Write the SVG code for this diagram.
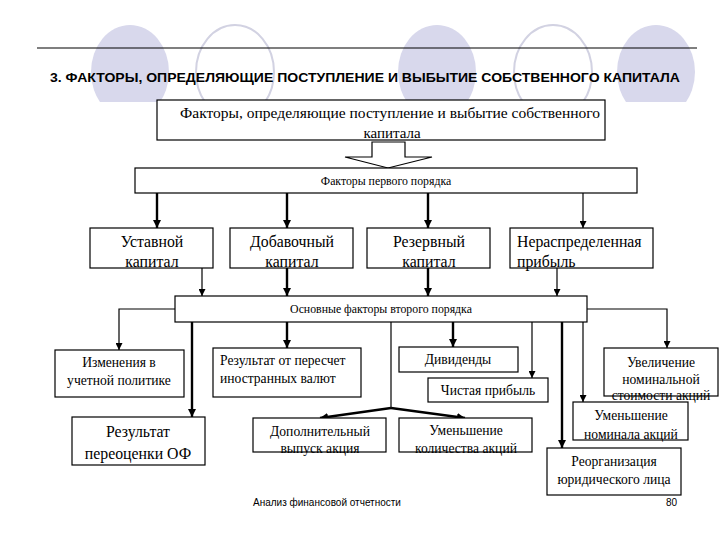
<svg xmlns="http://www.w3.org/2000/svg" width="720" height="540" viewBox="0 0 720 540">
<defs>
<marker id="ah" viewBox="0 0 10 10" refX="10" refY="5" markerWidth="7" markerHeight="7" markerUnits="userSpaceOnUse" orient="auto"><path d="M0,0 L10,5 L0,10 z" fill="#000"/></marker>
<marker id="ahb" viewBox="0 0 10 10" refX="10" refY="5" markerWidth="8" markerHeight="8" markerUnits="userSpaceOnUse" orient="auto"><path d="M0,0 L10,5 L0,10 z" fill="#000"/></marker>
<clipPath id="topclip"><rect x="0" y="0" width="720" height="102"/></clipPath>
</defs>
<style>
.box{fill:#fff;stroke:#000;stroke-width:1.2}
.t{font-family:"Liberation Serif","DejaVu Serif",serif;fill:#000}
.c{text-anchor:middle}
.s{font-size:13.6px}
.l{font-size:15.8px}
.thin{stroke:#000;stroke-width:1.2;fill:none}
.thick{stroke:#000;stroke-width:2.4;fill:none}
.fill{fill:#d8d8ec}
.ring{fill:#fff;stroke:#d2d2e2;stroke-width:2}
</style>
<rect width="720" height="540" fill="#fff"/>
<g id="decor" clip-path="url(#topclip)">
<ellipse class="fill" cx="130" cy="72" rx="39" ry="47"/>
<ellipse class="ring" cx="235" cy="72" rx="39" ry="47"/>
<ellipse class="fill" cx="437" cy="72" rx="39" ry="47"/>
<ellipse class="ring" cx="553" cy="72" rx="39" ry="47"/>
<ellipse class="fill" cx="656" cy="72" rx="39" ry="47"/>
</g>
<line x1="37" y1="48" x2="697" y2="48" stroke="#000" stroke-width="1.2"/>
<text x="50" y="82" font-family="'Liberation Sans',Arial,sans-serif" font-weight="bold" font-size="12.5" textLength="630" lengthAdjust="spacingAndGlyphs">3. ФАКТОРЫ, ОПРЕДЕЛЯЮЩИЕ ПОСТУПЛЕНИЕ И ВЫБЫТИЕ СОБСТВЕННОГО КАПИТАЛА</text>

<g id="connectors">
<path class="thick" d="M157,193 V228" marker-end="url(#ahb)"/>
<path class="thick" d="M287,193 V228" marker-end="url(#ahb)"/>
<path class="thick" d="M428,193 V228" marker-end="url(#ahb)"/>
<path class="thin" d="M583,193 V228" marker-end="url(#ah)"/>
<path class="thin" d="M202,268 V296" marker-end="url(#ah)"/>
<path class="thick" d="M287,268 V296" marker-end="url(#ahb)"/>
<path class="thick" d="M428,268 V296" marker-end="url(#ahb)"/>
<path class="thin" d="M557,268 V296" marker-end="url(#ah)"/>
<path class="thin" d="M175,309 H119 V350" marker-end="url(#ah)"/>
<path class="thick" d="M192,322 V417" marker-end="url(#ahb)"/>
<path class="thick" d="M287,322 V348" marker-end="url(#ahb)"/>
<path class="thin" d="M391,322 V408"/>
<path class="thick" d="M391,408 L320,418" marker-end="url(#ahb)"/>
<path class="thick" d="M391,408 L465,418" marker-end="url(#ahb)"/>
<path class="thick" d="M453,322 V347" marker-end="url(#ahb)"/>
<path class="thin" d="M532,322 V378" marker-end="url(#ah)"/>
<path class="thick" d="M562,322 V448" marker-end="url(#ahb)"/>
<path class="thin" d="M583,322 V402" marker-end="url(#ah)"/>
<path class="thin" d="M587,309 H667 V348" marker-end="url(#ah)"/>
</g>

<g id="n_top">
<rect class="box" x="157" y="100" width="448" height="40"/>
<text class="t" x="180" y="118" font-size="15" textLength="420" lengthAdjust="spacingAndGlyphs">Факторы, определяющие поступление и выбытие собственного</text>
<text class="t c" x="392" y="138" font-size="15">капитала</text>
</g>
<g id="n_arrow">
<path d="M372,142 H405 V157 H432 L388,168 L345,157 H372 Z" fill="#fff" stroke="#000" stroke-width="1.2"/>
</g>
<g id="n_first">
<rect class="box" x="135" y="168" width="502" height="25"/>
<text class="t c" x="386" y="185" font-size="11.8">Факторы первого порядка</text>
</g>
<g id="n_ustav">
<rect class="box" x="90" y="228" width="123" height="40"/>
<text class="t c l" x="152" y="247">Уставной</text>
<text class="t c l" x="152" y="267">капитал</text>
</g>
<g id="n_dobav">
<rect class="box" x="230" y="228" width="123" height="40"/>
<text class="t c l" x="292" y="247">Добавочный</text>
<text class="t c l" x="292" y="267">капитал</text>
</g>
<g id="n_rezerv">
<rect class="box" x="367" y="228" width="123" height="40"/>
<text class="t c l" x="429" y="247">Резервный</text>
<text class="t c l" x="429" y="267">капитал</text>
</g>
<g id="n_neraspr">
<rect class="box" x="510" y="228" width="143" height="40"/>
<text class="t l" x="517" y="247">Нераспределенная</text>
<text class="t l" x="517" y="267">прибыль</text>
</g>
<g id="n_second">
<rect class="box" x="175" y="296" width="412" height="26"/>
<text class="t c" x="381" y="313" font-size="11.8">Основные факторы второго порядка</text>
</g>
<g id="n_izm">
<rect class="box" x="55" y="350" width="129" height="47"/>
<text class="t c s" x="119" y="367">Изменения в</text>
<text class="t c s" x="119" y="385">учетной политике</text>
</g>
<g id="n_pereoc">
<rect class="box" x="72" y="417" width="133" height="48"/>
<text class="t c l" x="138" y="437">Результат</text>
<text class="t c l" x="138" y="459">переоценки ОФ</text>
</g>
<g id="n_pereschet">
<rect class="box" x="213" y="348" width="148" height="49"/>
<text class="t s" x="220" y="365">Результат от пересчет</text>
<text class="t s" x="220" y="383">иностранных валют</text>
</g>
<g id="n_dop">
<rect class="box" x="253" y="418" width="133" height="34"/>
<text class="t c s" x="320" y="436">Дополнительный</text>
<text class="t c s" x="320" y="453">выпуск акция</text>
</g>
<g id="n_divid">
<rect class="box" x="399" y="347" width="119" height="25"/>
<text class="t c s" x="458" y="364">Дивиденды</text>
</g>
<g id="n_chist">
<rect class="box" x="428" y="378" width="120" height="24"/>
<text class="t c s" x="488" y="395">Чистая прибыль</text>
</g>
<g id="n_umkol">
<rect class="box" x="399" y="418" width="133" height="34"/>
<text class="t c s" x="466" y="435">Уменьшение</text>
<text class="t c s" x="466" y="453">количества акций</text>
</g>
<g id="n_uvel">
<rect class="box" x="604" y="348" width="114" height="48"/>
<text class="t c s" x="661" y="367">Увеличение</text>
<text class="t c s" x="661" y="384">номинальной</text>
<text class="t c s" x="661" y="400">стоимости акций</text>
</g>
<g id="n_umnom">
<rect class="box" x="573" y="402" width="115" height="38"/>
<text class="t c s" x="631" y="420">Уменьшение</text>
<text class="t c s" x="631" y="439">номинала акций</text>
</g>
<g id="n_reorg">
<rect class="box" x="547" y="448" width="134" height="47"/>
<text class="t c s" x="614" y="466">Реорганизация</text>
<text class="t c s" x="614" y="484">юридического лица</text>
</g>
<g id="footer">
<text x="253" y="506" font-family="'Liberation Sans',Arial,sans-serif" font-size="10">Анализ финансовой отчетности</text>
<text x="677" y="506" font-family="'Liberation Sans',Arial,sans-serif" font-size="10" text-anchor="end">80</text>
</g>
</svg>
